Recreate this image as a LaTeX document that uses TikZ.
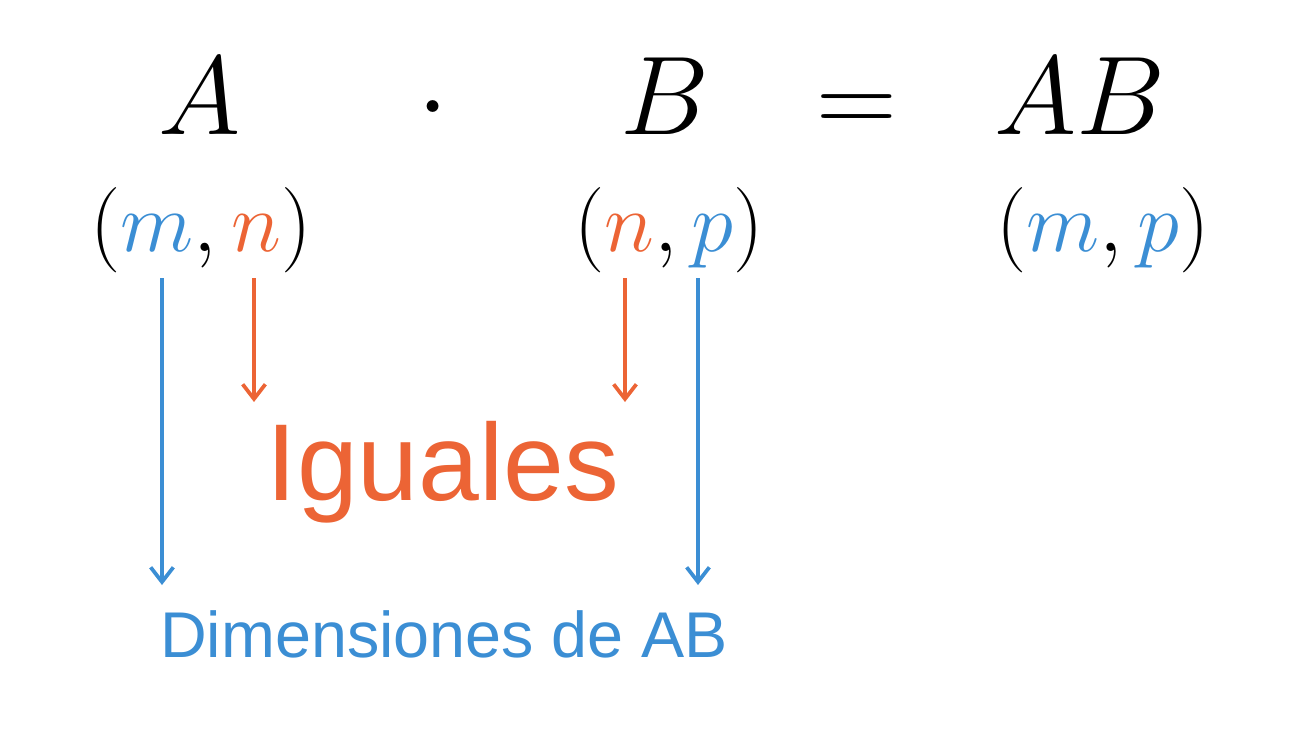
\RequirePackage{fix-cm}
\documentclass[tikz,border=0pt]{standalone}
\usepackage{fontspec}
\setsansfont{Liberation Sans}
\usepackage{tikz}
\usetikzlibrary{positioning,calc,arrows.meta}
\definecolor{dimblue}{HTML}{3B8ED4}
\definecolor{eqorange}{HTML}{EC6435}
\tikzset{
  bigmath/.style={font=\fontsize{84}{90}\selectfont, inner sep=0pt, anchor=base},
  tuplemath/.style={font=\fontsize{64}{70}\selectfont, inner sep=0pt, anchor=base},
  figarrow/.style={-{Straight Barb[length=11pt, width=17pt, line width=2.8pt]}, line width=2.8pt},
  bluearrow/.style={figarrow, draw=dimblue},
  orangearrow/.style={figarrow, draw=eqorange},
}

\begin{document}
\begin{tikzpicture}[x=0.75pt, y=-0.75pt]
		\useasboundingbox (0,0) rectangle (1296,738);

		% Product line
		\node[bigmath] (matA) at (200,135) {$A$};
		\node[bigmath] (dotop) at (433,135) {$\cdot$};
		\node[bigmath] (matB) at (665,135) {$B$};
		\node[bigmath] (eqop) at (857,135) {$=$};
		\node[bigmath] (matAB) at (1080,135) {$AB$};

		% Dimensions
		\node[tuplemath] (dimA) at (201,251) {$(\textcolor{dimblue}{m},\textcolor{eqorange}{n})$};
		\node[tuplemath] (dimB) at (669,251) {$(\textcolor{eqorange}{n},\textcolor{dimblue}{p})$};
		\node[tuplemath] (dimAB) at (1103,251) {$(\textcolor{dimblue}{m},\textcolor{dimblue}{p})$};

		% Labels
		\node[font=\fontsize{82}{90}\selectfont\sffamily, text=eqorange, inner sep=0pt, anchor=base] (iguales) at (443,500) {Iguales};
		\node[font=\fontsize{48.5}{54}\selectfont\sffamily, text=dimblue, inner sep=0pt, anchor=base west] (dimlabel) at (160,657) {Dimensiones de AB};

		% Arrow ends
		\coordinate (mAtop) at (162,278);
		\coordinate (nAtop) at (254,278);
		\coordinate (nBtop) at (625,278);
		\coordinate (pBtop) at (698,278);
		\coordinate (mAend) at (162,585);
		\coordinate (nAend) at (254,402);
		\coordinate (nBend) at (625,402);
		\coordinate (pBend) at (698,585);

		\draw[bluearrow] (mAtop) -- (mAend);
		\draw[orangearrow] (nAtop) -- (nAend);
		\draw[orangearrow] (nBtop) -- (nBend);
		\draw[bluearrow] (pBtop) -- (pBend);
	\end{tikzpicture}
\end{document}
